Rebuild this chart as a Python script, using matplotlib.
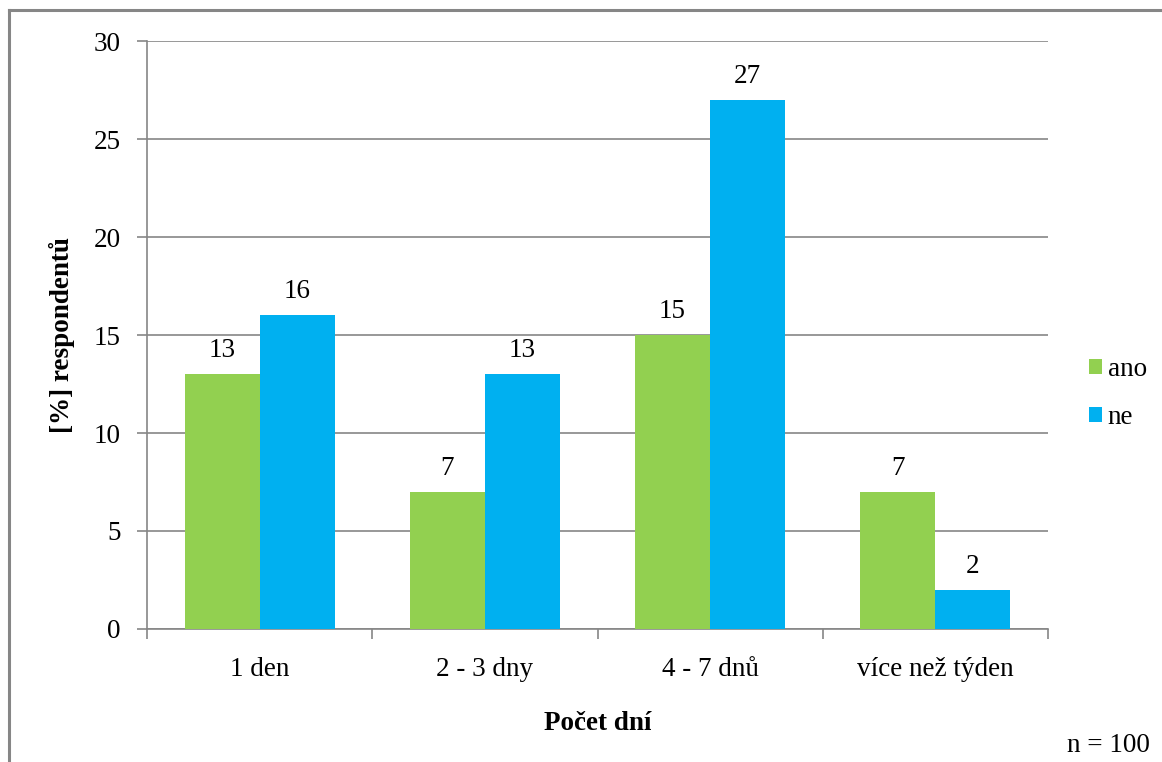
import matplotlib.pyplot as plt
import numpy as np
from matplotlib.lines import Line2D

plt.rcParams['font.family'] = ['Liberation Serif', 'DejaVu Serif']

categories = ["1 den", "2 - 3 dny", "4 - 7 dnů", "více než týden"]
ano = [13, 7, 15, 7]
ne = [16, 13, 27, 2]

green = "#92D050"
blue = "#00B0F0"
gray = "#868686"
fs = 19.5

fig = plt.figure(figsize=(11.62, 7.62), dpi=100)
ax = fig.add_axes([147 / 1162, 1 - 629 / 762, (1048 - 147) / 1162, (629 - 41) / 762])

x = np.arange(len(categories))
w = 1 / 3
b1 = ax.bar(x - w / 2, ano, w, color=green, label="ano", zorder=3)
b2 = ax.bar(x + w / 2, ne, w, color=blue, label="ne", zorder=3)

for bars, vals in ((b1, ano), (b2, ne)):
    for r, v in zip(bars, vals):
        ax.annotate(str(v), (r.get_x() + r.get_width() / 2, v), xytext=(0, 8),
                    textcoords="offset points", ha="center", va="bottom", fontsize=fs)

ax.set_xlim(-0.5, len(categories) - 0.5)
ax.set_ylim(0, 30)
ax.set_yticks(range(0, 31, 5))
ax.yaxis.grid(True, color=gray, linewidth=1.2, zorder=0)
ax.set_axisbelow(True)

# category labels sit between boundary ticks
ax.set_xticks(np.arange(-0.5, len(categories), 1))
ax.set_xticklabels([])
ax.set_xticks(x, minor=True)
ax.set_xticklabels(categories, minor=True, fontsize=fs)
ax.tick_params(axis="x", which="minor", length=0, pad=20)
ax.tick_params(axis="x", which="major", length=7, width=1.2, color=gray, direction="out")
ax.tick_params(axis="y", length=7, width=1.2, color=gray, direction="out", labelsize=fs, pad=12)

for s in ("top", "right"):
    ax.spines[s].set_visible(False)
for s in ("left", "bottom"):
    ax.spines[s].set_color(gray)
    ax.spines[s].set_linewidth(1.2)

ax.set_ylabel("[%] respondentů", fontsize=fs, fontweight="bold", labelpad=13)
ax.set_xlabel("Počet dní", fontsize=fs, fontweight="bold", labelpad=21)

ax.legend(loc="center left", bbox_to_anchor=(1.018, 0.40), frameon=False, fontsize=fs,
          handlelength=0.5, handleheight=0.5, handletextpad=0.2, labelspacing=0.85)

fig.text(1108 / 1162, 1 - 745 / 762, "n = 100", ha="center", va="center", fontsize=fs)

# outer chart frame
fig.add_artist(Line2D([9 / 1162, 1], [1 - 10 / 762, 1 - 10 / 762], color=gray, linewidth=2.2))
fig.add_artist(Line2D([9 / 1162, 9 / 1162], [0, 1 - 10 / 762], color=gray, linewidth=2.2))

fig.savefig("out.png", dpi=100)
